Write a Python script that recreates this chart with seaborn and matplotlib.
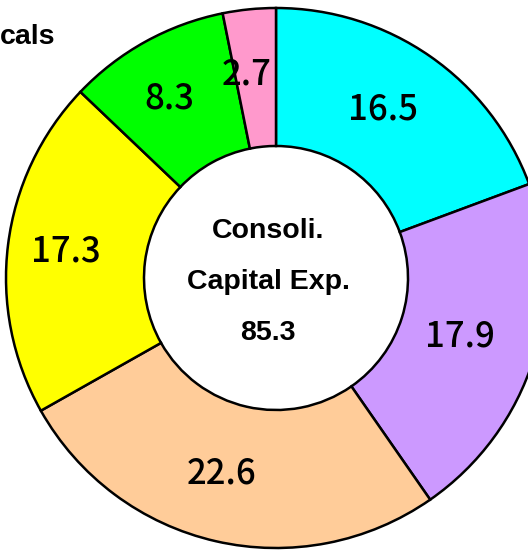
import matplotlib
matplotlib.use('Agg')
import matplotlib.pyplot as plt
import seaborn as sns

# 数据
segments = ['A', 'B', 'C', 'D', 'E', 'F']
values = [16.5, 17.9, 22.6, 17.3, 8.3, 2.7]
colors = ['#00FFFF', '#CC99FF', '#FFCC99', '#FFFF00', '#00FF00', '#FF99CC']
center_lines = ['Consoli.', 'Capital Exp.', '85.3']
corner_text = 'cals'

W, H = 528, 550
DPI = 100

sns.set_theme(style='white')
plt.rcParams['font.family'] = ['Liberation Sans', 'DejaVu Sans']

fig = plt.figure(figsize=(W / DPI, H / DPI), dpi=DPI)
ax = fig.add_axes([0, 0, 1, 1])

R = 270  # 外半径
r = 132  # 内半径
cx, cy = 276, H - 278
total = sum(values)

wedges, texts, autotexts = ax.pie(
    values, colors=sns.color_palette(colors), startangle=90, counterclock=False,
    radius=R, center=(cx, cy), frame=True,
    wedgeprops=dict(width=R - r, edgecolor='black', linewidth=1.8),
    autopct=lambda p: '%.1f' % (p * total / 100), pctdistance=0.75,
    textprops=dict(fontsize=25, color='black', fontweight='medium',
                   family=['Noto Sans CJK JP', 'DejaVu Sans']))
# 标签整体略向左
for t in autotexts:
    x, y = t.get_position()
    t.set_position((x - 9, y + 2))

ax.set_xlim(0, W)
ax.set_ylim(0, H)
ax.set_aspect('equal')
ax.axis('off')

# 中心文字
for i, line in enumerate(center_lines):
    ax.text(cx - 8, cy + 47 - i * 51, line, ha='center', va='center',
            fontsize=20.5, fontweight='bold', color='black')

ax.text(0, H - 37, corner_text, ha='left', va='center', fontsize=20.5,
        fontweight='bold', color='black')

plt.savefig('out.png', dpi=DPI)
plt.close()
